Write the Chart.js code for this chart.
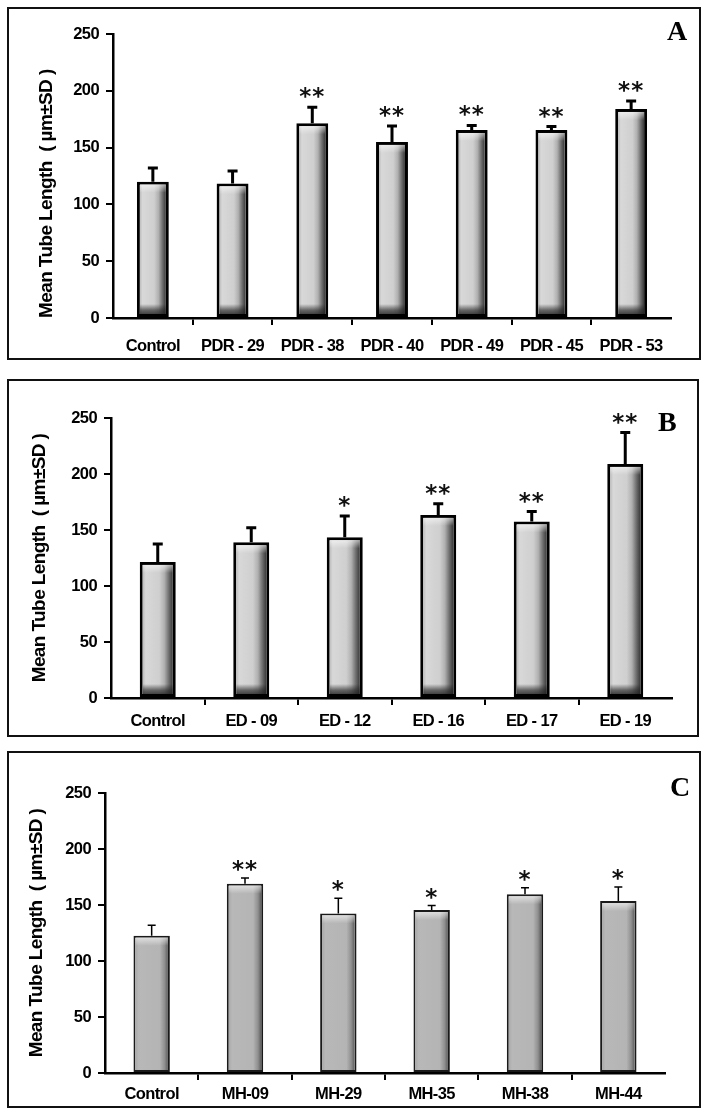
<!DOCTYPE html>
<html>
<head>
<meta charset="utf-8">
<script src="https://cdn.jsdelivr.net/npm/chart.js@4.4.0/dist/chart.umd.min.js"></script>
<style>
  html, body { margin: 0; padding: 0; background: #fff; }
  body { width: 708px; height: 1115px; position: relative; overflow: hidden; }
  .panel { position: absolute; }
  .panel canvas { position: absolute; left: 0; top: 0; }
  .frame { position: absolute; left: 0; top: 0; right: 0; bottom: 0; border: 2px solid #111; box-sizing: border-box; pointer-events: none; }
  .letter { position: absolute; font-family: 'Liberation Serif', serif; font-weight: bold; font-size: 28px; line-height: 1; }
</style>
</head>
<body>

<div class="panel" style="left:7px;top:7px;width:694px;height:353px">
  <canvas id="chartA" width="694" height="353"></canvas>
  <div class="frame"></div>
  <div class="letter" style="left:660px;top:10px">A</div>
</div>

<div class="panel" style="left:7px;top:379px;width:692px;height:358px">
  <canvas id="chartB" width="692" height="358"></canvas>
  <div class="frame"></div>
  <div class="letter" style="left:651px;top:29px">B</div>
</div>

<div class="panel" style="left:7px;top:751px;width:694px;height:357px">
  <canvas id="chartC" width="694" height="357"></canvas>
  <div class="frame"></div>
  <div class="letter" style="left:663px;top:22px">C</div>
</div>

<script>
// ─── DATA ────────────────────────────────────────────────────────────────────
const LABELS_A = ['Control', 'PDR - 29', 'PDR - 38', 'PDR - 40', 'PDR - 49', 'PDR - 45', 'PDR - 53'];
const MEANS_A  = [120, 118.5, 171.5, 155, 165.5, 165.5, 184];
const SD_A     = [12, 11, 14, 14, 4, 3, 7];
const SIG_A    = ['', '', '**', '**', '**', '**', '**'];

const LABELS_B = ['Control', 'ED - 09', 'ED - 12', 'ED - 16', 'ED - 17', 'ED - 19'];
const MEANS_B  = [121.5, 139, 143.5, 163.5, 157.5, 209];
const SD_B     = [16, 13, 19, 10, 9, 28];
const SIG_B    = ['', '', '*', '**', '**', '**'];

const LABELS_C = ['Control', 'MH-09', 'MH-29', 'MH-35', 'MH-38', 'MH-44'];
const MEANS_C  = [122.5, 169, 142.5, 145.5, 159.5, 153.5];
const SD_C     = [9.5, 5, 13.5, 4, 6, 12.5];
const SIG_C    = ['', '**', '*', '*', '*', '*'];

const Y_MIN = 0, Y_MAX = 250, Y_STEP = 50;
const Y_TITLE = 'Mean Tube Length  ( \u00b5m\u00b1SD )';

const FONT = "'Liberation Sans', Arial, sans-serif";

// ─── BAR SHADING + ERROR BARS + STARS ────────────────────────────────────────
const decorPlugin = {
  id: 'decor',
  beforeDraw(chart) {
    // squeeze letters a little, the original uses a condensed face
    chart.ctx.letterSpacing = '-0.6px';
  },
  afterDatasetsDraw(chart) {
    const o = chart.options.plugins.decor;
    const ctx = chart.ctx;
    const yScale = chart.scales.y;
    const meta = chart.getDatasetMeta(0);
    const means = chart.data.datasets[0].data;

    meta.data.forEach((bar, i) => {
      const { x, y, base, width } = bar.getProps(['x', 'y', 'base', 'width'], true);
      const bw = o.borderWidth;
      const l = x - width / 2 + bw, r = x + width / 2 - bw;
      const t = y + bw, b = base - bw;

      ctx.save();
      // horizontal shading, darker toward the right edge
      const g = ctx.createLinearGradient(l, 0, r, 0);
      o.hStops.forEach(s => g.addColorStop(s[0], s[1]));
      ctx.fillStyle = g;
      ctx.fillRect(l, t, r - l, b - t);
      // dark band at the foot
      if (o.footShade) {
        const gb = ctx.createLinearGradient(0, b - 10, 0, b);
        gb.addColorStop(0, 'rgba(30,30,30,0)');
        gb.addColorStop(0.6, 'rgba(30,30,30,0.6)');
        gb.addColorStop(1, 'rgba(30,30,30,0.8)');
        ctx.fillStyle = gb;
        ctx.fillRect(l, b - 10, r - l, 10);
      }
      // soft highlight under the top edge
      const gt = ctx.createLinearGradient(0, t, 0, t + 8);
      gt.addColorStop(0, 'rgba(255,255,255,0.55)');
      gt.addColorStop(1, 'rgba(255,255,255,0)');
      ctx.fillStyle = gt;
      ctx.fillRect(l, t, r - l, 8);

      // error bar (upper only)
      const yTop = yScale.getPixelForValue(means[i] + o.sd[i]);
      ctx.strokeStyle = '#000';
      ctx.lineWidth = o.errWidth;
      ctx.lineCap = 'butt';
      ctx.beginPath();
      ctx.moveTo(x, y);
      ctx.lineTo(x, yTop);
      ctx.moveTo(x - o.capHalf, yTop);
      ctx.lineTo(x + o.capHalf, yTop);
      ctx.stroke();

      // significance stars
      if (o.sig[i]) {
        ctx.fillStyle = '#111';
        ctx.letterSpacing = '1px';
        ctx.font = "bold 23px 'DejaVu Sans', sans-serif";
        ctx.textAlign = 'center';
        ctx.textBaseline = 'alphabetic';
        ctx.fillText(o.sig[i], x, yTop - o.starGap);
      }
      ctx.restore();
    });
  }
};

const STOPS_DEEP = [
  [0, '#bdbdbd'], [0.1, '#d8d8d8'], [0.55, '#cfcfcf'], [0.72, '#b0b0b0'],
  [0.88, '#6a6a6a'], [1, '#3a3a3a']
];
const STOPS_FLAT = [
  [0, '#a9a9a9'], [0.1, '#b8b8b8'], [0.75, '#b4b4b4'], [0.9, '#8f8f8f'], [1, '#5e5e5e']
];

// ─── BUILD ONE PANEL ─────────────────────────────────────────────────────────
function buildPanel(id, cfg) {
  new Chart(document.getElementById(id), {
    type: 'bar',
    data: {
      labels: cfg.labels,
      datasets: [{
        data: cfg.means,
        backgroundColor: '#cccccc',
        borderColor: cfg.borderColor,
        borderWidth: cfg.borderWidth,
        borderSkipped: false,
        categoryPercentage: 1,
        barPercentage: cfg.barPct,
      }]
    },
    options: {
      responsive: false,
      animation: false,
      events: [],
      layout: { padding: { left: 0, top: cfg.padTop, right: cfg.padRight, bottom: 0 } },
      plugins: {
        legend: { display: false },
        tooltip: { enabled: false },
        decor: {
          sd: cfg.sd, sig: cfg.sig, borderWidth: cfg.borderWidth,
          errWidth: cfg.errWidth, capHalf: cfg.capHalf, starGap: cfg.starGap,
          hStops: cfg.stops, footShade: cfg.footShade,
        }
      },
      scales: {
        x: {
          afterFit: s => { s.height = cfg.xHeight; },
          border: { color: '#000', width: 2.5 },
          grid: {
            offset: true,
            drawOnChartArea: false,
            drawTicks: true,
            tickLength: 7,
            lineWidth: 2,
            color: c => (c.index === undefined || c.index === 0) ? 'rgba(0,0,0,0)' : '#000',
          },
          ticks: {
            color: '#000',
            padding: cfg.xPad,
            maxRotation: 0,
            autoSkip: false,
            font: { family: FONT, size: 16.5, weight: 'bold' },
          }
        },
        y: {
          min: Y_MIN,
          max: Y_MAX,
          afterFit: s => { s.width = cfg.yWidth; },
          border: { color: '#000', width: 2.5 },
          grid: {
            drawOnChartArea: false,
            drawTicks: true,
            tickLength: 7,
            lineWidth: 2,
            color: '#000',
          },
          ticks: {
            stepSize: Y_STEP,
            color: '#000',
            padding: 7,
            font: { family: FONT, size: 16.5, weight: 'bold' },
          },
          title: {
            display: true,
            text: Y_TITLE,
            color: '#000',
            align: cfg.titleAlign,
            padding: { top: cfg.titlePad, bottom: 0 },
            font: { family: FONT, size: 19, weight: 'bold' },
          }
        }
      }
    },
    plugins: [decorPlugin]
  });
}

buildPanel('chartA', {
  labels: LABELS_A, means: MEANS_A, sd: SD_A, sig: SIG_A,
  barPct: 0.4, borderWidth: 3, borderColor: '#000', errWidth: 3, capHalf: 5, starGap: 3,
  stops: STOPS_DEEP, footShade: true,
  padTop: 27, padRight: 30, xHeight: 42, yWidth: 106, xPad: 12,
  titleAlign: 'start', titlePad: 28,
});

buildPanel('chartB', {
  labels: LABELS_B, means: MEANS_B, sd: SD_B, sig: SIG_B,
  barPct: 0.385, borderWidth: 3, borderColor: '#000', errWidth: 3, capHalf: 5, starGap: 3,
  stops: STOPS_DEEP, footShade: true,
  padTop: 39, padRight: 27, xHeight: 39, yWidth: 104, xPad: 7,
  titleAlign: 'center', titlePad: 21,
});

buildPanel('chartC', {
  labels: LABELS_C, means: MEANS_C, sd: SD_C, sig: SIG_C,
  barPct: 0.39, borderWidth: 2, borderColor: '#1a1a1a', errWidth: 1.5, capHalf: 4, starGap: 1,
  stops: STOPS_FLAT, footShade: false,
  padTop: 42, padRight: 36, xHeight: 35, yWidth: 98, xPad: 5,
  titleAlign: 'center', titlePad: 18,
});
</script>
</body>
</html>
